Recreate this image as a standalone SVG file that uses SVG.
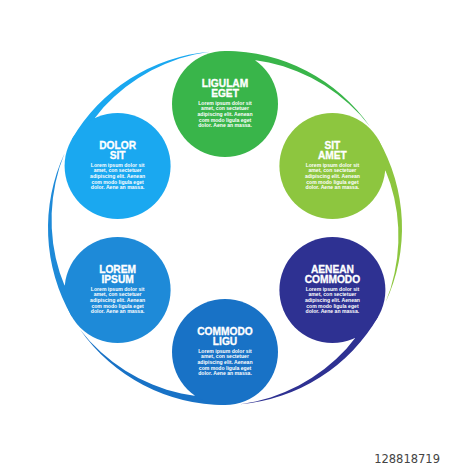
<svg xmlns="http://www.w3.org/2000/svg" xmlns:xlink="http://www.w3.org/1999/xlink" width="450" height="469" viewBox="0 0 450 469">
<style>
.t{font-family:"Liberation Sans",Arial,sans-serif;font-weight:bold;fill:#fff;stroke:#fff;stroke-width:0.3;text-anchor:middle;font-size:10.2px}
.b{font-family:"Liberation Sans",Arial,sans-serif;font-weight:bold;fill:#fff;text-anchor:middle;font-size:5.1px}
.id{font-family:"DejaVu Sans",sans-serif;fill:#444;font-size:11.5px;text-anchor:end}
</style>
<defs>
<path id="tail" d="M225,51 A177,177 0 0 1 370.0,126.5 L359.9,114.6 L348.9,103.8 L337.1,94.0 L324.5,85.3 L311.3,77.8 L297.5,71.4 L283.3,66.3 L268.8,62.5 L255.6,60.3 L240,80 Z"/>
<g id="body">
<text class="b" y="0.5">Lorem ipsum dolor sit</text>
<text class="b" y="6.2">amet, con sectetuer</text>
<text class="b" y="11.9">adipiscing elit. Aenean</text>
<text class="b" y="17.6">com modo ligula eget</text>
<text class="b" y="23.3">dolor. Aene an massa.</text>
</g>
</defs>
<rect width="450" height="469" fill="#fff"/>
<g id="connectors">
<use xlink:href="#tail" fill="#39b54a"/>
<use xlink:href="#tail" fill="#8dc63f" transform="rotate(60 225 228)"/>
<use xlink:href="#tail" fill="#2e3192" transform="rotate(120 225 228)"/>
<use xlink:href="#tail" fill="#1872c6" transform="rotate(180 225 228)"/>
<use xlink:href="#tail" fill="#1e8ad8" transform="rotate(240 225 228)"/>
<use xlink:href="#tail" fill="#1aa8f0" transform="rotate(300 225 228)"/>
</g>
<g id="node-ligulam" transform="translate(225 104)">
<circle r="53" fill="#39b54a"/>
<text class="t" y="-16.7">LIGULAM</text>
<text class="t" y="-7">EGET</text>
<use xlink:href="#body"/>
</g>
<g id="node-sit" transform="translate(332.4 166)">
<circle r="53" fill="#8dc63f"/>
<text class="t" y="-16.7">SIT</text>
<text class="t" y="-7">AMET</text>
<use xlink:href="#body"/>
</g>
<g id="node-aenean" transform="translate(332.4 290)">
<circle r="53" fill="#2e3192"/>
<text class="t" y="-16.7">AENEAN</text>
<text class="t" y="-7">COMMODO</text>
<use xlink:href="#body"/>
</g>
<g id="node-commodo" transform="translate(225 352)">
<circle r="53" fill="#1872c6"/>
<text class="t" y="-16.7">COMMODO</text>
<text class="t" y="-7">LIGU</text>
<use xlink:href="#body"/>
</g>
<g id="node-lorem" transform="translate(117.6 290)">
<circle r="53" fill="#1e8ad8"/>
<text class="t" y="-16.7">LOREM</text>
<text class="t" y="-7">IPSUM</text>
<use xlink:href="#body"/>
</g>
<g id="node-dolor" transform="translate(117.6 166)">
<circle r="53" fill="#1aa8f0"/>
<text class="t" y="-16.7">DOLOR</text>
<text class="t" y="-7">SIT</text>
<use xlink:href="#body"/>
</g>
<text class="id" x="440" y="463">128818719</text>
</svg>
